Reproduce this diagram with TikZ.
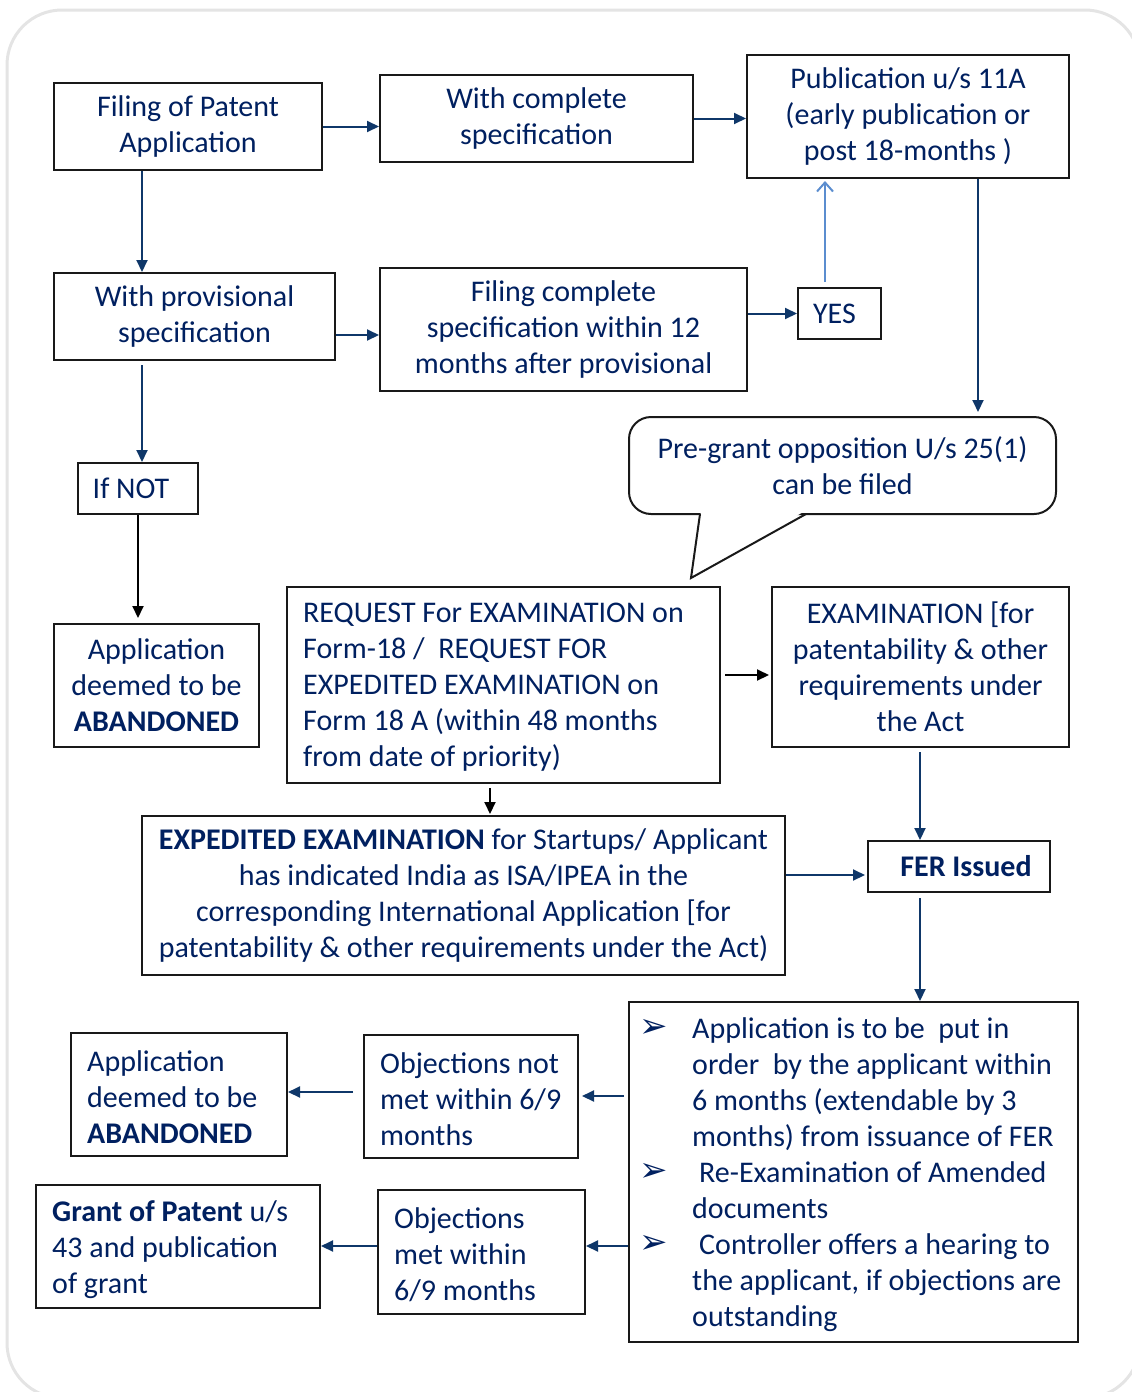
\documentclass[tikz,border=0pt]{standalone}
\usepackage{fontspec}
\setmainfont{Carlito}
\newfontfamily\dvfont{DejaVu Sans}
\usetikzlibrary{arrows.meta}
\definecolor{navy}{RGB}{0,32,96}
\definecolor{anavy}{RGB}{15,55,105}
\definecolor{lblue}{RGB}{91,141,207}
\definecolor{bord}{RGB}{228,228,228}
\definecolor{edgec}{RGB}{25,25,25}
\newcommand\myfs{\fontsize{30}{36}\selectfont}
\newcommand\mybul{\llap{\raisebox{1pt}{\dvfont\fontsize{34}{34}\selectfont ➢}\hspace{24pt}}}
\begin{document}
\begin{tikzpicture}[x=1pt,y=-1pt,
  box/.style={draw=edgec, line width=2pt, fill=white, inner sep=0pt, align=center, text=navy, font=\myfs},
  txt/.style={inner sep=0pt, align=left, text=navy, font=\myfs, anchor=west},
  arr/.style={draw=anavy, line width=2pt, -{Triangle[length=12pt,width=11pt]}},
  barr/.style={draw=black, line width=2pt, -{Triangle[length=12pt,width=11pt]}},
  larr/.style={draw=lblue, line width=2pt, -{Straight Barb[length=9pt,width=16pt,line width=2pt]}},
]
\useasboundingbox (0,0) rectangle (1132,1392);
\begin{scope}
\clip (0,0) rectangle (1132,1392);
\draw[bord, line width=3pt, rounded corners=55pt] (7,10) rectangle (1140,1398);
\end{scope}

% column / row coordinates
\coordinate (xL) at (142,0);
\coordinate (xY) at (825,0);
\coordinate (xP) at (978,0);
\coordinate (xR) at (490,0);
\coordinate (xF) at (920,0);
\coordinate (y335) at (0,335);
\coordinate (y675) at (0,675);
\coordinate (y875) at (0,875);
\coordinate (y1096) at (0,1096);
\coordinate (y1092) at (0,1092);
\coordinate (y1246) at (0,1246);

% boxes
\node[box, minimum width=268pt, minimum height=87pt] (fil) at (188,126.5) {Filing of Patent\\Application};
\node[box, minimum width=313pt, minimum height=87pt] (comp) at (536.5,118.5) {With complete\\specification};
\node[box, minimum width=322pt, minimum height=123pt] (pub) at (908,116.5) {Publication u/s 11A\\(early publication or\\post 18-months )};
\node[box, minimum width=281pt, minimum height=87pt] (prov) at (194.5,316.5) {With provisional\\specification};
\node[box, minimum width=367pt, minimum height=123pt] (fcs) at (563.5,329.5) {Filing complete\\specification within 12\\months after provisional};
\node[box, minimum width=83pt, minimum height=51pt] (yes) at (839.5,313.5) {\hspace*{-10pt}YES};
\node[box, minimum width=120pt, minimum height=51pt] (ifnot) at (138,488.5) {\hspace*{-14pt}If NOT};
\node[box, minimum width=205pt, minimum height=123pt] (ab1) at (156.5,685.5) {Application\\deemed to be\\\textbf{ABANDONED}};

% callout
\node[box, rounded corners=22pt, minimum width=427pt, minimum height=97pt] (call) at (842.5,465.5) {Pre-grant opposition U/s 25(1)\\can be filed};
\fill[white] (701,511) -- (691,576) -- (805,511) -- cycle;
\draw[edgec, line width=2pt, line join=miter] (700,514) -- (691,578) -- (806,514);

\node[box, minimum width=433pt, minimum height=196pt] (req) at (503.5,685) {};
\node[txt] (reqt) at (303,687) {REQUEST For EXAMINATION on\\Form-18 /\ \ REQUEST FOR\\EXPEDITED EXAMINATION on\\Form 18 A (within 48 months\\from date of priority)};
\node[box, minimum width=297pt, minimum height=160pt] (exam) at (920.5,667) {EXAMINATION [for\\patentability \& other\\requirements under\\the Act};
\node[box, minimum width=643pt, minimum height=159pt] (exp) at (463.5,895.5) {\textbf{EXPEDITED EXAMINATION} for Startups/ Applicant\\has indicated India as ISA/IPEA in the\\corresponding International Application [for\\patentability \& other requirements under the Act)};
\node[box, minimum width=182pt, minimum height=51pt] (fer) at (959,866.5) {\hspace*{14pt}\textbf{FER Issued}};

\node[box, minimum width=449pt, minimum height=340pt] (bul) at (853.5,1172) {};
\node[txt] (bult) at (692,1175) {\mybul Application is to be\ \ put in\\order\ \ by the applicant within\\6 months (extendable by 3\\months) from issuance of FER\\\mybul\hspace{7pt}Re-Examination of Amended\\documents\\\mybul\hspace{7pt}Controller offers a hearing to\\the applicant, if objections are\\outstanding};

\node[box, minimum width=214pt, minimum height=123pt] (onm) at (471,1096.5) {};
\node[txt] (onmt) at (380,1099) {Objections not\\met within 6/9\\months};
\node[box, minimum width=216pt, minimum height=123pt] (ab2) at (179,1094.5) {};
\node[txt] (ab2t) at (87,1097) {Application\\deemed to be\\\textbf{ABANDONED}};
\node[box, minimum width=284pt, minimum height=123pt] (grant) at (178,1246.5) {};
\node[txt] (grantt) at (52,1250) {\textbf{Grant of Patent} u/s\\43 and publication\\of grant};
\node[box, minimum width=207pt, minimum height=124pt] (om) at (481.5,1252) {};
\node[txt] (omt) at (394,1255) {Objections\\met within\\6/9 months};

% connectors
\draw[arr] (fil.east) -- (fil.east -| comp.west);
\draw[arr] (comp.east) -- (comp.east -| pub.west);
\draw[arr] (fil.south -| xL) -- (prov.north -| xL);
\draw[arr] (prov.east |- y335) -- (fcs.west |- y335);
\draw[arr] (yes.west -| fcs.east) -- (yes.west);
\draw[larr, shorten <=5pt, shorten >=2pt] (yes.north -| xY) -- (pub.south -| xY);
\draw[arr, shorten >=4pt] (pub.south -| xP) -- (call.north -| xP);
\draw[arr, shorten <=4pt] (prov.south -| xL) -- (ifnot.north -| xL);
\draw[barr, shorten >=5pt] (ifnot.south) -- (ifnot.south |- ab1.north);
\draw[barr, shorten <=4pt, shorten >=2pt] (req.east |- y675) -- (exam.west |- y675);
\draw[barr, shorten <=4pt, shorten >=1pt] (req.south -| xR) -- (exp.north -| xR);
\draw[arr, shorten <=4pt] (exam.south -| xF) -- (fer.north -| xF);
\draw[arr, shorten >=2pt] (exp.east |- y875) -- (fer.west |- y875);
\draw[arr, shorten <=5pt] (fer.south -| xF) -- (bul.north -| xF);
\draw[arr, shorten <=4pt, shorten >=3pt] (bul.west |- y1096) -- (onm.east |- y1096);
\draw[arr, shorten <=10pt] (onm.west |- y1092) -- (ab2.east |- y1092);
\draw[arr] (bul.west |- y1246) -- (om.east |- y1246);
\draw[arr] (om.west |- y1246) -- (grant.east |- y1246);
\end{tikzpicture}
\end{document}
